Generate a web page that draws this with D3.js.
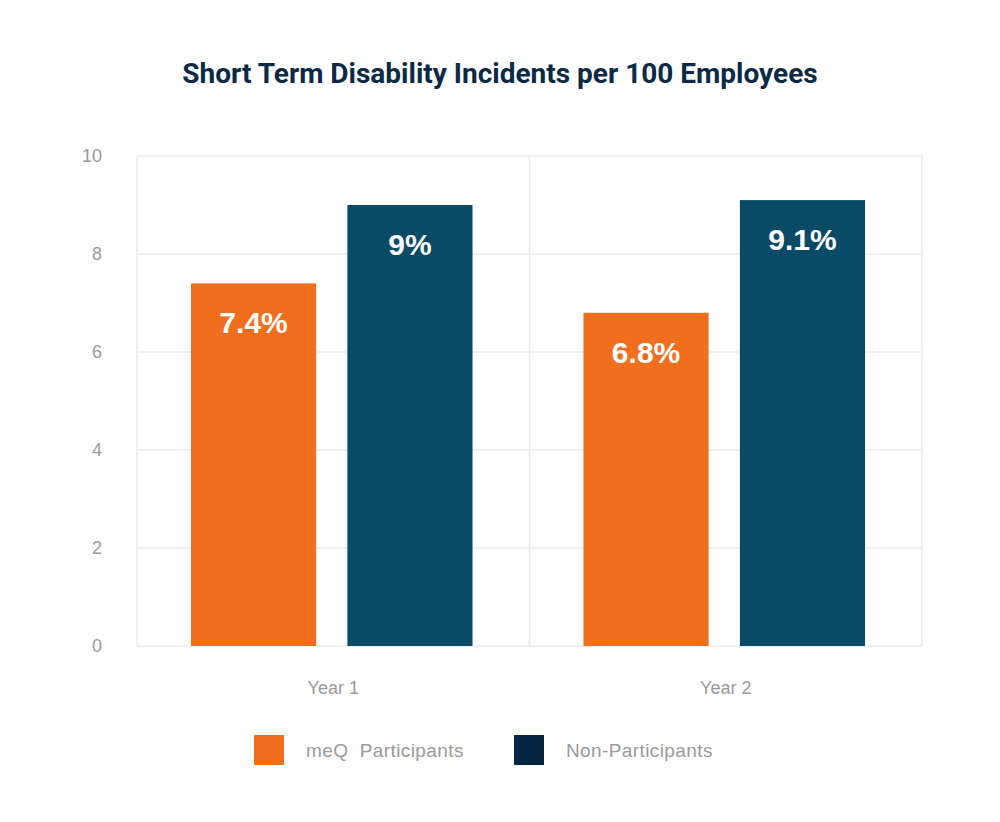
<!DOCTYPE html>
<html>
<head>
<meta charset="utf-8">
<script src="https://cdn.jsdelivr.net/npm/d3@7"></script>
<style>
  body { margin: 0; background: #fff; }
</style>
</head>
<body>
<script>
let years = ["Year 1", "Year 2"];
let seriesNames = ["meQ  Participants", "Non-Participants"];
let participants = [7.4, 6.8];
let nonParticipants = [9, 9.1];
let yTicks = [0, 2, 4, 6, 8, 10];

let w = 1000, h = 822;
let plotLeft = 137, plotRight = 922, plotTop = 156, plotBottom = 646;
let barColors = ["#ef6f1e", "#094a66"];
let legendColors = ["#ef6f1e", "#062542"];
let sans = "'Liberation Sans', Arial, sans-serif";

let svg = d3.select("body").append("svg").attr("width", w).attr("height", h);

svg.append("text")
  .text("Short Term Disability Incidents per 100 Employees")
  .attr("x", 500).attr("y", 83)
  .attr("text-anchor", "middle")
  .style("font-family", "Roboto, sans-serif")
  .style("font-weight", "bold")
  .style("font-size", "28px")
  .attr("fill", "#0c2a45");

let x = d3.scaleBand().domain(years).range([plotLeft, plotRight]);
let y = d3.scaleLinear().domain([0, 10]).range([plotBottom, plotTop]);
let inner = d3.scaleBand().domain([0, 1]).range([54, x.bandwidth() - 57]).paddingInner(0.2);

// grid
svg.selectAll("line.h").data(yTicks).enter().append("line")
  .attr("x1", plotLeft).attr("x2", plotRight)
  .attr("y1", d => y(d)).attr("y2", d => y(d))
  .attr("stroke", "#ebebeb").attr("stroke-width", 1.5);
svg.selectAll("line.v").data([plotLeft, plotLeft + x.bandwidth(), plotRight]).enter().append("line")
  .attr("x1", d => d).attr("x2", d => d)
  .attr("y1", plotTop).attr("y2", plotBottom)
  .attr("stroke", "#ebebeb").attr("stroke-width", 1.5);

// y labels
svg.selectAll("text.yt").data(yTicks).enter().append("text")
  .text(d => d)
  .attr("x", 102).attr("y", d => y(d) + 6)
  .attr("text-anchor", "end")
  .style("font-family", sans)
  .style("font-size", "18px")
  .attr("fill", "#9a9a9a");

// x labels
svg.selectAll("text.xt").data(years).enter().append("text")
  .text(d => d)
  .attr("x", d => x(d) + x.bandwidth() / 2).attr("y", 694)
  .attr("text-anchor", "middle")
  .style("font-family", sans)
  .style("font-size", "18px")
  .attr("fill", "#9a9a9a");

let bars = [];
years.forEach((yr, i) => {
  bars.push({ yr: yr, s: 0, v: participants[i] });
  bars.push({ yr: yr, s: 1, v: nonParticipants[i] });
});

svg.selectAll("rect.bar").data(bars).enter().append("rect")
  .attr("x", d => x(d.yr) + inner(d.s))
  .attr("y", d => y(d.v))
  .attr("width", inner.bandwidth())
  .attr("height", d => y(0) - y(d.v))
  .attr("fill", d => barColors[d.s]);

svg.selectAll("text.val").data(bars).enter().append("text")
  .text(d => d.v + "%")
  .attr("x", d => x(d.yr) + inner(d.s) + inner.bandwidth() / 2)
  .attr("y", d => y(d.v) + 50)
  .attr("text-anchor", "middle")
  .style("font-family", sans)
  .style("font-weight", "bold")
  .style("font-size", "30px")
  .attr("fill", "#fff");

// legend
let lx = [254, 514];
seriesNames.forEach((name, i) => {
  svg.append("rect")
    .attr("x", lx[i]).attr("y", 735)
    .attr("width", 30).attr("height", 30)
    .attr("fill", legendColors[i]);
  svg.append("text")
    .text(name)
    .attr("x", lx[i] + 52).attr("y", 757)
    .style("font-family", sans)
    .style("font-size", "19px")
    .style("letter-spacing", "0.4px")
    .style("white-space", "pre")
    .attr("fill", "#9a9a9a");
});
</script>
</body>
</html>
